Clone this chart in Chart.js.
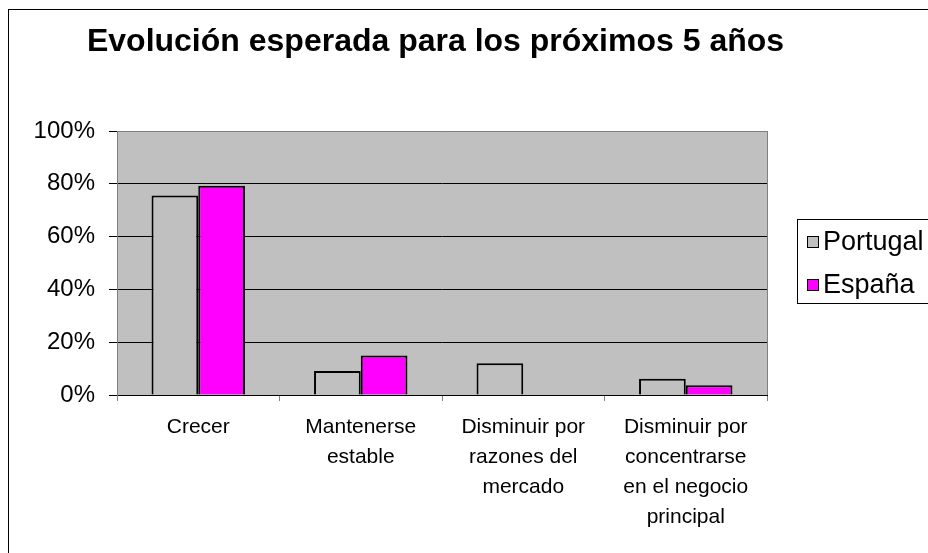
<!DOCTYPE html>
<html lang="es">
<head>
    <meta charset="UTF-8">
    <title>Evolución esperada para los próximos 5 años</title>
    <script src="https://cdn.jsdelivr.net/npm/chart.js"></script>
    <style>
        html, body { margin: 0; padding: 0; background: #fff; }
        .wrap { width: 928px; height: 553px; }
    </style>
</head>
<body>
    <div class="wrap"><canvas id="chart" width="928" height="553"></canvas></div>

    <script>
        // data
        const categories = [
            ['Crecer'],
            ['Mantenerse', 'estable'],
            ['Disminuir por', 'razones del', 'mercado'],
            ['Disminuir por', 'concentrarse', 'en el negocio', 'principal']
        ];
        const seriesNames = ['Portugal', 'España'];
        const portugal = [75.6, 9.1, 12.0, 6.2];
        const espana = [79.3, 15.0, 0, 3.7];
        const yTicks = [0, 20, 40, 60, 80, 100];

        const colors = ['#c0c0c0', '#ff00ff'];
        const FONT = "'Liberation Sans', Arial, sans-serif";

        // grey plot background, plot frame and outer chart border
        const frame = {
            id: 'frame',
            beforeDraw(chart) {
                const { ctx, chartArea: a } = chart;
                ctx.save();
                ctx.fillStyle = '#c0c0c0';
                ctx.fillRect(a.left, a.top, a.right - a.left, a.bottom - a.top);
                ctx.restore();
            },
            afterDraw(chart) {
                const { ctx, chartArea: a } = chart;
                ctx.save();
                ctx.strokeStyle = '#808080';
                ctx.lineWidth = 1;
                ctx.beginPath();
                ctx.moveTo(Math.round(a.right) + 0.5, a.top);
                ctx.lineTo(Math.round(a.right) + 0.5, a.bottom);
                ctx.stroke();
                ctx.strokeStyle = '#000';
                ctx.strokeRect(8.5, 9.5, 1000, 1000);
                ctx.restore();
            }
        };

        // boxed legend to the right of the plot
        const boxLegend = {
            id: 'boxLegend',
            afterDraw(chart) {
                const { ctx } = chart;
                ctx.save();
                ctx.strokeStyle = '#000';
                ctx.lineWidth = 1;
                ctx.strokeRect(797.5, 219.5, 200, 84);
                ctx.font = '27px ' + FONT;
                ctx.textBaseline = 'middle';
                chart.data.datasets.forEach((ds, i) => {
                    const y = 242 + i * 43;
                    ctx.fillStyle = ds.backgroundColor;
                    ctx.fillRect(807.5, y - 5.5, 11, 11);
                    ctx.strokeRect(807.5, y - 5.5, 11, 11);
                    ctx.fillStyle = '#000';
                    ctx.fillText(ds.label, 823, y + 1);
                });
                ctx.restore();
            }
        };

        new Chart(document.getElementById('chart'), {
            type: 'bar',
            data: {
                labels: categories,
                datasets: [
                    { label: seriesNames[0], data: portugal, backgroundColor: colors[0] },
                    { label: seriesNames[1], data: espana, backgroundColor: colors[1] }
                ]
            },
            options: {
                responsive: false,
                animation: false,
                layout: { padding: { left: 0, right: 57, top: 0, bottom: 0 } },
                datasets: {
                    bar: {
                        borderColor: '#000',
                        borderWidth: 2,
                        categoryPercentage: 0.575,
                        barPercentage: 1
                    }
                },
                plugins: {
                    legend: { display: false },
                    tooltip: { enabled: false },
                    title: {
                        display: true,
                        text: 'Evolución esperada para los próximos 5 años',
                        color: '#000',
                        font: { family: FONT, size: 32, weight: 'bold', lineHeight: 1.2 },
                        padding: { top: 23, bottom: 69.6 }
                    }
                },
                scales: {
                    x: {
                        grid: {
                            offset: true,
                            drawOnChartArea: false,
                            color: '#808080',
                            tickLength: 6
                        },
                        border: { color: '#000', width: 1 },
                        ticks: {
                            color: '#000',
                            padding: 11,
                            maxRotation: 0,
                            autoSkip: false,
                            font: { family: FONT, size: 21, lineHeight: 1.43 }
                        },
                        afterFit(scale) { scale.height = 158; }
                    },
                    y: {
                        min: 0,
                        max: 100,
                        afterBuildTicks(scale) { scale.ticks = yTicks.map(v => ({ value: v })); },
                        grid: {
                            color: ctx => (ctx.tick && ctx.tick.value === 100 ? '#808080' : '#000'),
                            tickColor: '#000',
                            tickLength: 8
                        },
                        border: { color: '#808080', width: 1 },
                        ticks: {
                            color: '#000',
                            padding: 14,
                            font: { family: FONT, size: 24 },
                            callback: v => v + '%'
                        },
                        afterFit(scale) { scale.width = 117; }
                    },
                    // empty axis that only reserves room for the legend
                    side: {
                        position: 'right',
                        display: true,
                        grid: { display: false },
                        border: { display: false },
                        ticks: { display: false },
                        afterFit(scale) { scale.width = 104; }
                    }
                }
            },
            plugins: [frame, boxLegend]
        });
    </script>
</body>
</html>
